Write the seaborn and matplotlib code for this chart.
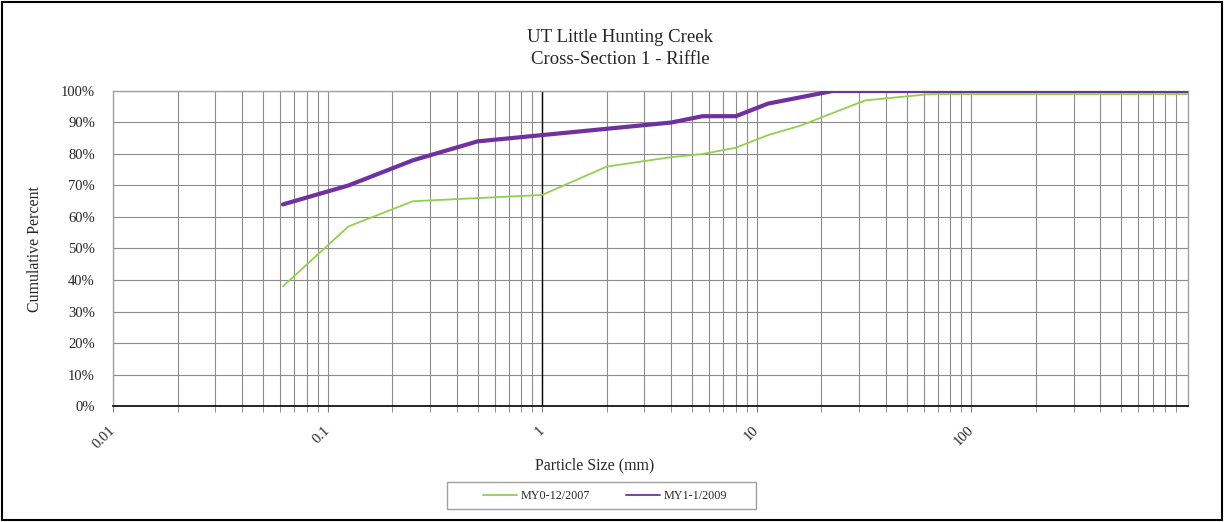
import numpy as np
import pandas as pd
import matplotlib
matplotlib.use('Agg')
import matplotlib.pyplot as plt
from matplotlib.ticker import FixedLocator, LogLocator, NullFormatter, FuncFormatter
import seaborn as sns

# Particle size classes (mm) and cumulative percent finer
sizes = [0.062, 0.125, 0.25, 0.5, 1, 2, 4, 5.6, 8, 11.3, 16, 22.6, 32, 45,
         64, 90, 128, 180, 256, 362, 512, 1024]
my0_2007 = [38, 57, 65, 66, 67, 76, 79, 80, 82, 86, 89, 93, 97, 98,
            99, 99, 99, 99, 99, 99, 99, 99]
my1_2009 = [64, 70, 78, 84, 86, 88, 90, 92, 92, 96, 98, 100, 100, 100,
            100, 100, 100, 100, 100, 100, 100, 100]
series_names = ['MY0-12/2007', 'MY1-1/2009']
series_colors = ['#92D050', '#7030A0']
series_widths = [1.3, 3.0]
x_ticks = [0.01, 0.1, 1, 10, 100]

df = pd.DataFrame({
    'size': sizes * 2,
    'pct': my0_2007 + my1_2009,
    'survey': [series_names[0]] * len(sizes) + [series_names[1]] * len(sizes),
})

sns.set_style('white')
plt.rcParams['font.family'] = ['Liberation Serif', 'DejaVu Serif']

fig = plt.figure(figsize=(12.24, 5.22), dpi=100)
ax = fig.add_axes([0.0923, 0.2222, 0.8783, 0.6035])

for name, color, lw in zip(series_names, series_colors, series_widths):
    sub = df[df['survey'] == name]
    sns.lineplot(data=sub, x='size', y='pct', ax=ax, color=color, linewidth=lw,
                 label=name, legend=False, zorder=3)

ax.set_xscale('log')
ax.set_xlim(0.01, 1024)
ax.set_ylim(0, 100)

# grid
ax.xaxis.set_major_locator(FixedLocator(x_ticks))
ax.xaxis.set_minor_locator(LogLocator(base=10, subs=np.arange(2, 10), numticks=20))
ax.xaxis.set_minor_formatter(NullFormatter())
ax.xaxis.set_major_formatter(FuncFormatter(lambda v, p: f'{v:g}'))
ax.set_yticks(np.arange(0, 101, 10))
ax.yaxis.set_major_formatter(FuncFormatter(lambda v, p: f'{v:.0f}%'))
ax.grid(True, which='both', axis='x', color='#8c8c8c', linewidth=0.8)
ax.grid(True, which='major', axis='y', color='#8c8c8c', linewidth=0.8)
ax.axvline(1, color='black', linewidth=1.0, zorder=2)

for side in ['top', 'right', 'left']:
    ax.spines[side].set_color('#a0a0a0')
    ax.spines[side].set_linewidth(1.0)
ax.spines['bottom'].set_color('black')
ax.spines['bottom'].set_linewidth(1.2)

ax.tick_params(axis='x', which='both', direction='out', length=4, color='#808080',
               bottom=True, labelsize=10.5, pad=12)
ax.tick_params(axis='y', which='major', length=0, labelsize=10.5, pad=13)
for lab in ax.get_xticklabels():
    lab.set_rotation(45)
    lab.set_ha('right')
    lab.set_va('center')
    lab.set_rotation_mode('anchor')

ax.set_xlabel('')
ax.set_ylabel('')
fig.text(595 / 1224, 1 - 465 / 522, 'Particle Size (mm)', fontsize=11.4,
         ha='center', va='center')
fig.text(35 / 1224, 1 - 249 / 522, 'Cumulative Percent', fontsize=11.4,
         ha='center', va='center', rotation=90)
fig.text(620 / 1224, 1 - 38 / 522, 'UT Little Hunting Creek', fontsize=13.5,
         ha='center', va='center')
fig.text(620 / 1224, 1 - 60 / 522, 'Cross-Section 1 - Riffle', fontsize=13.5,
         ha='center', va='center')

# legend (frame drawn separately so the wide side padding matches)
handles, labels = ax.get_legend_handles_labels()
leg = fig.legend(handles, labels, loc='center', bbox_to_anchor=(605 / 1224, 1 - 496 / 522),
                 ncol=2, fontsize=8.7, frameon=False,
                 handlelength=2.8, handletextpad=0.3, columnspacing=3.0,
                 borderpad=0, borderaxespad=0)
for line in leg.get_lines():
    line.set_linewidth(1.3)
fig.patches.append(plt.Rectangle((447 / 1224, 1 - 509 / 522), 309 / 1224, 27 / 522,
                                 transform=fig.transFigure, fill=False,
                                 edgecolor='#a0a0a0', linewidth=1.0))

# outer chart border
fig.patches.append(plt.Rectangle((0.002, 0.004), 0.996, 0.992, transform=fig.transFigure,
                                 fill=False, edgecolor='black', linewidth=1.5))

fig.savefig('out.png', dpi=100)
plt.close(fig)
